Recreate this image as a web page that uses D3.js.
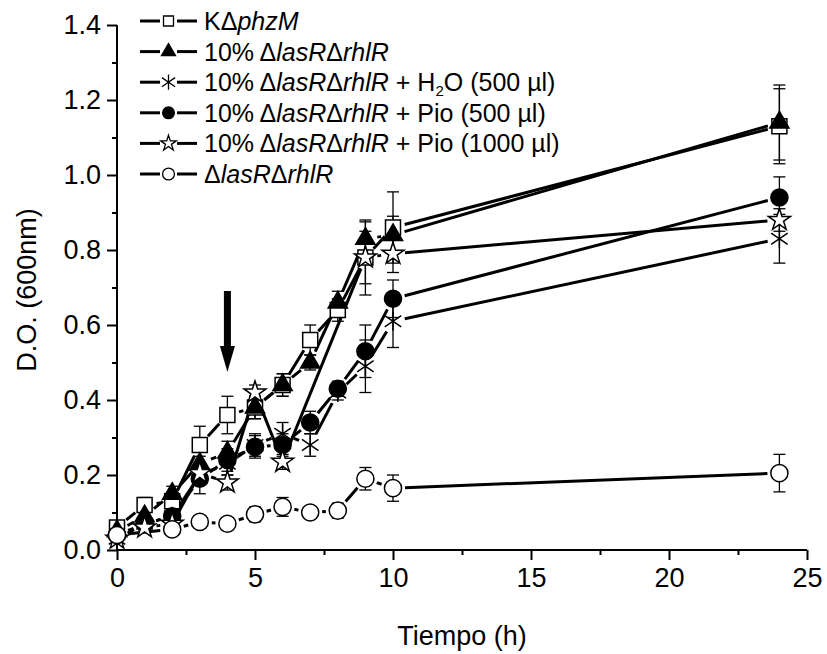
<!DOCTYPE html>
<html lang="es">
<head>
<meta charset="UTF-8">
<title>Crecimiento</title>
<script src="https://cdn.jsdelivr.net/npm/d3@7"></script>
<style>
  body { margin: 0; background: #fff; }
  text { font-family: "Liberation Sans", Arial, sans-serif; fill: #000; }
</style>
</head>
<body>
<svg id="chart" width="827" height="654"></svg>
<script>
// tiempos (h)
const tiempo = [0, 1, 2, 3, 4, 5, 6, 7, 8, 9, 10, 24];
const tiempoPio1000 = [0, 1, 2, 3, 4, 5, 6, 9, 10, 24];
const tiempoMutante = [0, 2, 3, 4, 5, 6, 7, 8, 9, 10, 24];

// D.O. 600nm por serie
const kPhzM      = [0.06, 0.12, 0.13, 0.28, 0.36, 0.38, 0.44, 0.56, 0.64, 0.78, 0.86, 1.13];
const kPhzMErr   = [0.01, 0.02, 0.02, 0.05, 0.05, 0.03, 0.03, 0.04, 0.03, 0.07, 0.095, 0.10];
const mix10      = [0.05, 0.09, 0.15, 0.23, 0.26, 0.38, 0.44, 0.50, 0.66, 0.83, 0.84, 1.14];
const mix10Err   = [0.01, 0.02, 0.02, 0.02, 0.03, 0.03, 0.03, 0.02, 0.03, 0.045, 0.05, 0.10];
const mixH2O     = [0.03, 0.07, 0.09, 0.20, 0.23, 0.28, 0.31, 0.28, 0.42, 0.49, 0.61, 0.83];
const mixH2OErr  = [0.01, 0.01, 0.02, 0.02, 0.03, 0.03, 0.03, 0.03, 0.02, 0.07, 0.07, 0.065];
const mixPio500  = [0.04, 0.07, 0.09, 0.19, 0.24, 0.275, 0.28, 0.34, 0.43, 0.53, 0.67, 0.94];
const mixPio500Err = [0.01, 0.01, 0.02, 0.04, 0.03, 0.03, 0.03, 0.03, 0.02, 0.07, 0.05, 0.055];
const mixPio1000 = [0.03, 0.06, 0.07, 0.205, 0.18, 0.42, 0.235, 0.78, 0.79, 0.88];
const mixPio1000Err = [0.01, 0.01, 0.01, 0.02, 0.02, 0.02, 0.02, 0.10, 0.05, 0.03];
const mutante    = [0.04, 0.055, 0.075, 0.07, 0.095, 0.115, 0.10, 0.105, 0.19, 0.165, 0.205];
const mutanteErr = [0.01, 0.01, 0.015, 0.01, 0.02, 0.025, 0.015, 0.02, 0.03, 0.035, 0.05];

const xTicks = [0, 5, 10, 15, 20, 25];
const yTicks = [0, 0.2, 0.4, 0.6, 0.8, 1.0, 1.2, 1.4];

const svg = d3.select('#chart');
const x = d3.scaleLinear().domain([0, 25]).range([117, 807]);
const y = d3.scaleLinear().domain([0, 1.4]).range([550, 25]);

// simbolo asterisco (vertical + x)
const asterisk = {
  draw(ctx, size) {
    const r = Math.sqrt(size) / 2;
    ctx.moveTo(0, -r); ctx.lineTo(0, r);
    ctx.moveTo(-r * 0.87, -r * 0.6); ctx.lineTo(r * 0.87, r * 0.6);
    ctx.moveTo(-r * 0.87, r * 0.6); ctx.lineTo(r * 0.87, -r * 0.6);
  }
};

const series = [
  { t: tiempo, v: kPhzM, e: kPhzMErr, sym: d3.symbolSquare, size: 225, fill: '#fff', legSize: 100 },
  { t: tiempo, v: mix10, e: mix10Err, sym: d3.symbolTriangle, size: 160, fill: '#000', legSize: 85 },
  { t: tiempo, v: mixH2O, e: mixH2OErr, sym: asterisk, size: 360, fill: 'none', legSize: 230 },
  { t: tiempo, v: mixPio500, e: mixPio500Err, sym: d3.symbolCircle, size: 230, fill: '#000', legSize: 110 },
  { t: tiempoPio1000, v: mixPio1000, e: mixPio1000Err, sym: d3.symbolStar, size: 150, fill: '#fff', legSize: 75 },
  { t: tiempoMutante, v: mutante, e: mutanteErr, sym: d3.symbolCircle, size: 230, fill: '#fff', legSize: 110 }
];

// ejes
const xAxis = d3.axisBottom(x).tickValues(xTicks).tickSize(10).tickPadding(8).tickFormat(d3.format('d'));
const yAxis = d3.axisLeft(y).tickValues(yTicks).tickSize(10).tickPadding(6).tickFormat(d3.format('.1f'));

const gx = svg.append('g').attr('transform', 'translate(0,550)').call(xAxis);
svg.append('g').attr('transform', 'translate(0,550)')
  .call(d3.axisBottom(x).tickValues([2.5, 7.5, 12.5, 17.5, 22.5]).tickSize(5).tickFormat(''))
  .select('.domain').remove();
const gy = svg.append('g').attr('transform', 'translate(117,0)').call(yAxis);
svg.append('g').attr('transform', 'translate(117,0)')
  .call(d3.axisLeft(y).tickValues([0.1, 0.3, 0.5, 0.7, 0.9, 1.1, 1.3]).tickSize(5).tickFormat(''))
  .select('.domain').remove();

svg.selectAll('.domain').attr('stroke-width', 2);
gx.select('.domain').attr('d', 'M117,0H807');
gy.select('.domain').attr('d', 'M0,550V25');
svg.selectAll('.tick line').attr('stroke-width', 2);
svg.selectAll('.tick text').style('font-size', '27px').style('font-family', '"Liberation Sans", Arial, sans-serif');

// titulos
svg.append('text').attr('x', 462).attr('y', 645).attr('text-anchor', 'middle')
  .style('font-size', '27px').text('Tiempo (h)');
svg.append('text').attr('transform', 'translate(36,290) rotate(-90)').attr('text-anchor', 'middle')
  .style('font-size', '27px').text('D.O. (600nm)');

// barras de error
const plot = svg.append('g');
series.forEach(s => {
  const g = plot.append('g').attr('stroke', '#000').attr('stroke-width', 1.3);
  s.t.forEach((t, i) => {
    const cx = x(t), y1 = y(s.v[i] + s.e[i]), y0 = y(s.v[i] - s.e[i]);
    g.append('line').attr('x1', cx).attr('x2', cx).attr('y1', y1).attr('y2', y0);
    g.append('line').attr('x1', cx - 6).attr('x2', cx + 6).attr('y1', y1).attr('y2', y1);
    g.append('line').attr('x1', cx - 6).attr('x2', cx + 6).attr('y1', y0).attr('y2', y0);
  });
});

// lineas con huecos alrededor de los simbolos
const gap = 12;
series.forEach(s => {
  const pts = s.t.map((t, i) => [x(t), y(s.v[i])]);
  for (let i = 0; i < pts.length - 1; i++) {
    const [ax, ay] = pts[i], [bx, by] = pts[i + 1];
    const len = Math.hypot(bx - ax, by - ay);
    if (len <= 2 * gap + 1) continue;
    const ux = (bx - ax) / len, uy = (by - ay) / len;
    plot.append('line')
      .attr('x1', ax + ux * gap).attr('y1', ay + uy * gap)
      .attr('x2', bx - ux * gap).attr('y2', by - uy * gap)
      .attr('stroke', '#000').attr('stroke-width', 3);
  }
});

// simbolos
series.forEach(s => {
  plot.append('g').selectAll('path').data(s.t.map((t, i) => [t, s.v[i]])).join('path')
    .attr('transform', d => `translate(${x(d[0])},${y(d[1])})`)
    .attr('d', d3.symbol(s.sym, s.size))
    .attr('fill', s.fill)
    .attr('stroke', '#000')
    .attr('stroke-width', 1.5);
});

// flecha (adicion de piocianina, 4 h)
const ax4 = x(4);
svg.append('rect').attr('x', ax4 - 3.5).attr('y', 291).attr('width', 7).attr('height', 58);
svg.append('path').attr('d', `M${ax4 - 7.5},346L${ax4 + 7.5},346L${ax4},372Z`).attr('fill', '#000');

// leyenda
const legend = svg.append('g');
const legendRows = [
  [{ t: 'K\u0394' }, { t: 'phzM', i: true }],
  [{ t: '10% \u0394' }, { t: 'lasR', i: true }, { t: '\u0394' }, { t: 'rhlR', i: true }],
  [{ t: '10% \u0394' }, { t: 'lasR', i: true }, { t: '\u0394' }, { t: 'rhlR', i: true }, { t: ' + H' }, { t: '2', sub: true }, { t: 'O (500 \u00b5l)', up: true }],
  [{ t: '10% \u0394' }, { t: 'lasR', i: true }, { t: '\u0394' }, { t: 'rhlR', i: true }, { t: ' + Pio (500 \u00b5l)' }],
  [{ t: '10% \u0394' }, { t: 'lasR', i: true }, { t: '\u0394' }, { t: 'rhlR', i: true }, { t: ' + Pio (1000 \u00b5l)' }],
  [{ t: '\u0394' }, { t: 'lasR', i: true }, { t: '\u0394' }, { t: 'rhlR', i: true }]
];
series.forEach((s, k) => {
  const cy = 21 + k * 30.6;
  legend.append('line').attr('x1', 140).attr('x2', 160).attr('y1', cy).attr('y2', cy).attr('stroke', '#000').attr('stroke-width', 3);
  legend.append('line').attr('x1', 177).attr('x2', 197).attr('y1', cy).attr('y2', cy).attr('stroke', '#000').attr('stroke-width', 3);
  legend.append('path').attr('transform', `translate(168.5,${cy})`)
    .attr('d', d3.symbol(s.sym, s.legSize)).attr('fill', s.fill).attr('stroke', '#000').attr('stroke-width', 1.3);
  const txt = legend.append('text').attr('x', 204).attr('y', cy + 9).style('font-size', '25px');
  legendRows[k].forEach(p => {
    const ts = txt.append('tspan').text(p.t);
    if (p.i) ts.style('font-style', 'italic');
    if (p.sub) ts.attr('dy', 5).style('font-size', '15px');
    if (p.up) ts.attr('dy', -5);
  });
});
</script>
</body>
</html>
